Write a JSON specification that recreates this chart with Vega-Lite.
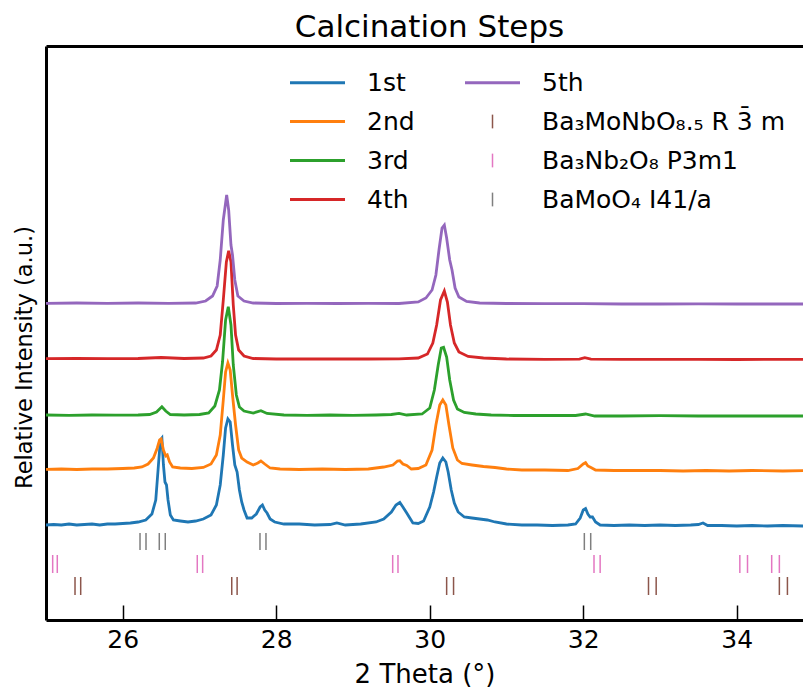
{
  "$schema": "https://vega.github.io/schema/vega-lite/v6.json",
  "width": 757,
  "height": 574,
  "autosize": {"type": "none"},
  "padding": {"left": 46, "top": 46, "right": 0, "bottom": 69},
  "background": "white",
  "title": {"text": "Calcination Steps", "fontSize": 31, "font": "DejaVu Sans", "fontWeight": "normal", "color": "black", "offset": 2, "dx": 5},
  "config": {
    "view": {"stroke": null},
    "axis": {"labelFont": "DejaVu Sans", "titleFont": "DejaVu Sans", "labelFontSize": 25, "titleFontSize": 26, "titleFontWeight": "normal", "labelColor": "black", "titleColor": "black", "domainColor": "black", "domainWidth": 3, "tickColor": "black", "grid": false}
  },
  "datasets": {
    "traces": [
      {"label":"1st","two_theta":25.00,"intensity":95},{"label":"1st","two_theta":25.10,"intensity":95.5},{"label":"1st","two_theta":25.20,"intensity":95},{"label":"1st","two_theta":25.30,"intensity":96},{"label":"1st","two_theta":25.40,"intensity":95},{"label":"1st","two_theta":25.50,"intensity":95.5},{"label":"1st","two_theta":25.60,"intensity":96},{"label":"1st","two_theta":25.70,"intensity":95},{"label":"1st","two_theta":25.80,"intensity":96},{"label":"1st","two_theta":25.90,"intensity":96},{"label":"1st","two_theta":26.00,"intensity":96.5},{"label":"1st","two_theta":26.10,"intensity":97},{"label":"1st","two_theta":26.20,"intensity":98},{"label":"1st","two_theta":26.30,"intensity":100},{"label":"1st","two_theta":26.38,"intensity":106},{"label":"1st","two_theta":26.43,"intensity":120},{"label":"1st","two_theta":26.46,"intensity":150},{"label":"1st","two_theta":26.49,"intensity":180},{"label":"1st","two_theta":26.51,"intensity":182},{"label":"1st","two_theta":26.53,"intensity":155},{"label":"1st","two_theta":26.55,"intensity":138},{"label":"1st","two_theta":26.57,"intensity":135},{"label":"1st","two_theta":26.59,"intensity":120},{"label":"1st","two_theta":26.62,"intensity":105},{"label":"1st","two_theta":26.66,"intensity":100},{"label":"1st","two_theta":26.75,"intensity":99},{"label":"1st","two_theta":26.85,"intensity":98},{"label":"1st","two_theta":26.95,"intensity":99},{"label":"1st","two_theta":27.05,"intensity":101},{"label":"1st","two_theta":27.15,"intensity":105},{"label":"1st","two_theta":27.22,"intensity":115},{"label":"1st","two_theta":27.27,"intensity":135},{"label":"1st","two_theta":27.31,"intensity":165},{"label":"1st","two_theta":27.34,"intensity":192},{"label":"1st","two_theta":27.37,"intensity":201},{"label":"1st","two_theta":27.40,"intensity":198},{"label":"1st","two_theta":27.43,"intensity":175},{"label":"1st","two_theta":27.46,"intensity":155},{"label":"1st","two_theta":27.49,"intensity":148},{"label":"1st","two_theta":27.52,"intensity":130},{"label":"1st","two_theta":27.55,"intensity":118},{"label":"1st","two_theta":27.58,"intensity":110},{"label":"1st","two_theta":27.62,"intensity":102},{"label":"1st","two_theta":27.68,"intensity":102},{"label":"1st","two_theta":27.74,"intensity":106},{"label":"1st","two_theta":27.79,"intensity":113},{"label":"1st","two_theta":27.82,"intensity":115},{"label":"1st","two_theta":27.85,"intensity":110},{"label":"1st","two_theta":27.88,"intensity":107},{"label":"1st","two_theta":27.92,"intensity":101},{"label":"1st","two_theta":27.98,"intensity":98},{"label":"1st","two_theta":28.10,"intensity":96},{"label":"1st","two_theta":28.30,"intensity":96},{"label":"1st","two_theta":28.50,"intensity":95},{"label":"1st","two_theta":28.70,"intensity":95.5},{"label":"1st","two_theta":28.79,"intensity":97},{"label":"1st","two_theta":28.90,"intensity":95},{"label":"1st","two_theta":29.10,"intensity":96},{"label":"1st","two_theta":29.30,"intensity":98},{"label":"1st","two_theta":29.40,"intensity":101},{"label":"1st","two_theta":29.50,"intensity":108},{"label":"1st","two_theta":29.56,"intensity":115},{"label":"1st","two_theta":29.61,"intensity":117.5},{"label":"1st","two_theta":29.65,"intensity":113},{"label":"1st","two_theta":29.70,"intensity":107},{"label":"1st","two_theta":29.74,"intensity":102},{"label":"1st","two_theta":29.78,"intensity":97},{"label":"1st","two_theta":29.85,"intensity":96.5},{"label":"1st","two_theta":29.92,"intensity":99},{"label":"1st","two_theta":30.00,"intensity":113},{"label":"1st","two_theta":30.05,"intensity":128},{"label":"1st","two_theta":30.09,"intensity":143},{"label":"1st","two_theta":30.13,"intensity":157},{"label":"1st","two_theta":30.17,"intensity":162},{"label":"1st","two_theta":30.21,"intensity":158},{"label":"1st","two_theta":30.24,"intensity":148},{"label":"1st","two_theta":30.28,"intensity":130},{"label":"1st","two_theta":30.32,"intensity":117},{"label":"1st","two_theta":30.37,"intensity":108},{"label":"1st","two_theta":30.45,"intensity":103},{"label":"1st","two_theta":30.55,"intensity":102},{"label":"1st","two_theta":30.65,"intensity":101},{"label":"1st","two_theta":30.75,"intensity":100},{"label":"1st","two_theta":30.85,"intensity":98},{"label":"1st","two_theta":31.00,"intensity":96},{"label":"1st","two_theta":31.20,"intensity":95},{"label":"1st","two_theta":31.40,"intensity":95},{"label":"1st","two_theta":31.60,"intensity":94.5},{"label":"1st","two_theta":31.80,"intensity":95},{"label":"1st","two_theta":31.90,"intensity":96},{"label":"1st","two_theta":31.96,"intensity":102},{"label":"1st","two_theta":32.00,"intensity":110},{"label":"1st","two_theta":32.03,"intensity":111.5},{"label":"1st","two_theta":32.06,"intensity":106},{"label":"1st","two_theta":32.09,"intensity":103},{"label":"1st","two_theta":32.12,"intensity":103},{"label":"1st","two_theta":32.16,"intensity":98},{"label":"1st","two_theta":32.22,"intensity":95},{"label":"1st","two_theta":32.40,"intensity":94.5},{"label":"1st","two_theta":32.60,"intensity":95},{"label":"1st","two_theta":32.80,"intensity":94.5},{"label":"1st","two_theta":33.00,"intensity":95},{"label":"1st","two_theta":33.20,"intensity":94.5},{"label":"1st","two_theta":33.40,"intensity":95},{"label":"1st","two_theta":33.50,"intensity":95.5},{"label":"1st","two_theta":33.56,"intensity":97},{"label":"1st","two_theta":33.62,"intensity":94.5},{"label":"1st","two_theta":33.80,"intensity":94.5},{"label":"1st","two_theta":34.00,"intensity":94},{"label":"1st","two_theta":34.20,"intensity":94.5},{"label":"1st","two_theta":34.40,"intensity":94},{"label":"1st","two_theta":34.60,"intensity":94.5},{"label":"1st","two_theta":34.87,"intensity":94},

      {"label":"2nd","two_theta":25.00,"intensity":150.7},{"label":"2nd","two_theta":25.20,"intensity":151},{"label":"2nd","two_theta":25.40,"intensity":150.5},{"label":"2nd","two_theta":25.60,"intensity":151},{"label":"2nd","two_theta":25.80,"intensity":151},{"label":"2nd","two_theta":26.00,"intensity":151.5},{"label":"2nd","two_theta":26.15,"intensity":152},{"label":"2nd","two_theta":26.25,"intensity":153},{"label":"2nd","two_theta":26.33,"intensity":156},{"label":"2nd","two_theta":26.40,"intensity":162},{"label":"2nd","two_theta":26.45,"intensity":172},{"label":"2nd","two_theta":26.48,"intensity":180},{"label":"2nd","two_theta":26.50,"intensity":181},{"label":"2nd","two_theta":26.53,"intensity":170},{"label":"2nd","two_theta":26.56,"intensity":164},{"label":"2nd","two_theta":26.58,"intensity":165},{"label":"2nd","two_theta":26.61,"intensity":158},{"label":"2nd","two_theta":26.65,"intensity":153},{"label":"2nd","two_theta":26.75,"intensity":152},{"label":"2nd","two_theta":26.90,"intensity":151.5},{"label":"2nd","two_theta":27.05,"intensity":152.5},{"label":"2nd","two_theta":27.15,"intensity":156},{"label":"2nd","two_theta":27.22,"intensity":165},{"label":"2nd","two_theta":27.27,"intensity":185},{"label":"2nd","two_theta":27.31,"intensity":220},{"label":"2nd","two_theta":27.34,"intensity":248},{"label":"2nd","two_theta":27.37,"intensity":257},{"label":"2nd","two_theta":27.40,"intensity":250},{"label":"2nd","two_theta":27.43,"intensity":225},{"label":"2nd","two_theta":27.47,"intensity":195},{"label":"2nd","two_theta":27.51,"intensity":170},{"label":"2nd","two_theta":27.55,"intensity":162},{"label":"2nd","two_theta":27.62,"intensity":158},{"label":"2nd","two_theta":27.70,"intensity":155},{"label":"2nd","two_theta":27.76,"intensity":157},{"label":"2nd","two_theta":27.80,"intensity":159},{"label":"2nd","two_theta":27.85,"intensity":156},{"label":"2nd","two_theta":27.92,"intensity":152},{"label":"2nd","two_theta":28.05,"intensity":151},{"label":"2nd","two_theta":28.30,"intensity":150.5},{"label":"2nd","two_theta":28.60,"intensity":151},{"label":"2nd","two_theta":28.90,"intensity":150.5},{"label":"2nd","two_theta":29.20,"intensity":151},{"label":"2nd","two_theta":29.40,"intensity":153},{"label":"2nd","two_theta":29.52,"intensity":155},{"label":"2nd","two_theta":29.58,"intensity":159},{"label":"2nd","two_theta":29.61,"intensity":159.3},{"label":"2nd","two_theta":29.65,"intensity":156},{"label":"2nd","two_theta":29.70,"intensity":154.5},{"label":"2nd","two_theta":29.76,"intensity":151},{"label":"2nd","two_theta":29.85,"intensity":151.5},{"label":"2nd","two_theta":29.95,"intensity":155},{"label":"2nd","two_theta":30.03,"intensity":170},{"label":"2nd","two_theta":30.08,"intensity":195},{"label":"2nd","two_theta":30.13,"intensity":215},{"label":"2nd","two_theta":30.17,"intensity":220},{"label":"2nd","two_theta":30.21,"intensity":215},{"label":"2nd","two_theta":30.25,"intensity":195},{"label":"2nd","two_theta":30.30,"intensity":172},{"label":"2nd","two_theta":30.36,"intensity":160},{"label":"2nd","two_theta":30.42,"intensity":156.5},{"label":"2nd","two_theta":30.55,"intensity":155},{"label":"2nd","two_theta":30.70,"intensity":153.5},{"label":"2nd","two_theta":30.85,"intensity":152.5},{"label":"2nd","two_theta":31.00,"intensity":151},{"label":"2nd","two_theta":31.20,"intensity":150},{"label":"2nd","two_theta":31.50,"intensity":150},{"label":"2nd","two_theta":31.80,"intensity":149.5},{"label":"2nd","two_theta":31.93,"intensity":151.5},{"label":"2nd","two_theta":32.00,"intensity":156},{"label":"2nd","two_theta":32.03,"intensity":157.3},{"label":"2nd","two_theta":32.06,"intensity":154},{"label":"2nd","two_theta":32.10,"intensity":152.5},{"label":"2nd","two_theta":32.16,"intensity":150},{"label":"2nd","two_theta":32.40,"intensity":149.5},{"label":"2nd","two_theta":32.70,"intensity":149.5},{"label":"2nd","two_theta":33.00,"intensity":149.5},{"label":"2nd","two_theta":33.30,"intensity":149},{"label":"2nd","two_theta":33.60,"intensity":149.5},{"label":"2nd","two_theta":33.90,"intensity":149},{"label":"2nd","two_theta":34.20,"intensity":149.5},{"label":"2nd","two_theta":34.60,"intensity":149},{"label":"2nd","two_theta":34.87,"intensity":149.3},

      {"label":"3rd","two_theta":25.00,"intensity":205},{"label":"3rd","two_theta":25.30,"intensity":204.7},{"label":"3rd","two_theta":25.60,"intensity":205},{"label":"3rd","two_theta":25.90,"intensity":204.8},{"label":"3rd","two_theta":26.20,"intensity":205},{"label":"3rd","two_theta":26.35,"intensity":205.5},{"label":"3rd","two_theta":26.44,"intensity":208},{"label":"3rd","two_theta":26.51,"intensity":213.3},{"label":"3rd","two_theta":26.56,"intensity":209},{"label":"3rd","two_theta":26.62,"intensity":205.5},{"label":"3rd","two_theta":26.80,"intensity":205},{"label":"3rd","two_theta":27.00,"intensity":205.5},{"label":"3rd","two_theta":27.12,"intensity":207},{"label":"3rd","two_theta":27.20,"intensity":214},{"label":"3rd","two_theta":27.26,"intensity":230},{"label":"3rd","two_theta":27.30,"intensity":258},{"label":"3rd","two_theta":27.34,"intensity":300},{"label":"3rd","two_theta":27.375,"intensity":313.3},{"label":"3rd","two_theta":27.41,"intensity":295},{"label":"3rd","two_theta":27.44,"intensity":255},{"label":"3rd","two_theta":27.48,"intensity":225},{"label":"3rd","two_theta":27.52,"intensity":213},{"label":"3rd","two_theta":27.58,"intensity":209},{"label":"3rd","two_theta":27.70,"intensity":207},{"label":"3rd","two_theta":27.80,"intensity":209.3},{"label":"3rd","two_theta":27.88,"intensity":206.5},{"label":"3rd","two_theta":28.10,"intensity":205},{"label":"3rd","two_theta":28.40,"intensity":204.7},{"label":"3rd","two_theta":28.70,"intensity":205},{"label":"3rd","two_theta":29.00,"intensity":204.7},{"label":"3rd","two_theta":29.30,"intensity":205},{"label":"3rd","two_theta":29.50,"intensity":205.5},{"label":"3rd","two_theta":29.60,"intensity":206.7},{"label":"3rd","two_theta":29.70,"intensity":205},{"label":"3rd","two_theta":29.90,"intensity":206},{"label":"3rd","two_theta":30.00,"intensity":212},{"label":"3rd","two_theta":30.06,"intensity":230},{"label":"3rd","two_theta":30.11,"intensity":255},{"label":"3rd","two_theta":30.15,"intensity":272},{"label":"3rd","two_theta":30.18,"intensity":272.7},{"label":"3rd","two_theta":30.22,"intensity":263},{"label":"3rd","two_theta":30.26,"intensity":240},{"label":"3rd","two_theta":30.31,"intensity":220},{"label":"3rd","two_theta":30.36,"intensity":211},{"label":"3rd","two_theta":30.45,"intensity":207.5},{"label":"3rd","two_theta":30.60,"intensity":206},{"label":"3rd","two_theta":30.80,"intensity":205},{"label":"3rd","two_theta":31.10,"intensity":204.5},{"label":"3rd","two_theta":31.50,"intensity":204.5},{"label":"3rd","two_theta":31.90,"intensity":204.5},{"label":"3rd","two_theta":32.03,"intensity":206},{"label":"3rd","two_theta":32.15,"intensity":204},{"label":"3rd","two_theta":32.50,"intensity":204},{"label":"3rd","two_theta":33.00,"intensity":204.3},{"label":"3rd","two_theta":33.50,"intensity":204},{"label":"3rd","two_theta":34.00,"intensity":204},{"label":"3rd","two_theta":34.50,"intensity":204},{"label":"3rd","two_theta":34.87,"intensity":204},

      {"label":"4th","two_theta":25.00,"intensity":261.3},{"label":"4th","two_theta":25.40,"intensity":261.5},{"label":"4th","two_theta":25.80,"intensity":261.3},{"label":"4th","two_theta":26.20,"intensity":261.5},{"label":"4th","two_theta":26.50,"intensity":262.5},{"label":"4th","two_theta":26.80,"intensity":261.5},{"label":"4th","two_theta":27.05,"intensity":262},{"label":"4th","two_theta":27.15,"intensity":264},{"label":"4th","two_theta":27.22,"intensity":270},{"label":"4th","two_theta":27.27,"intensity":285},{"label":"4th","two_theta":27.31,"intensity":320},{"label":"4th","two_theta":27.35,"intensity":358},{"label":"4th","two_theta":27.38,"intensity":369.3},{"label":"4th","two_theta":27.41,"intensity":358},{"label":"4th","two_theta":27.44,"intensity":315},{"label":"4th","two_theta":27.47,"intensity":285},{"label":"4th","two_theta":27.51,"intensity":270},{"label":"4th","two_theta":27.58,"intensity":264},{"label":"4th","two_theta":27.70,"intensity":261.5},{"label":"4th","two_theta":28.00,"intensity":261},{"label":"4th","two_theta":28.40,"intensity":261},{"label":"4th","two_theta":28.80,"intensity":261},{"label":"4th","two_theta":29.20,"intensity":261},{"label":"4th","two_theta":29.60,"intensity":261.2},{"label":"4th","two_theta":29.85,"intensity":262},{"label":"4th","two_theta":29.97,"intensity":266},{"label":"4th","two_theta":30.04,"intensity":277},{"label":"4th","two_theta":30.09,"intensity":295},{"label":"4th","two_theta":30.14,"intensity":320},{"label":"4th","two_theta":30.19,"intensity":329},{"label":"4th","two_theta":30.23,"intensity":318},{"label":"4th","two_theta":30.27,"intensity":295},{"label":"4th","two_theta":30.32,"intensity":277},{"label":"4th","two_theta":30.38,"intensity":268},{"label":"4th","two_theta":30.50,"intensity":263.5},{"label":"4th","two_theta":30.70,"intensity":262},{"label":"4th","two_theta":31.00,"intensity":261},{"label":"4th","two_theta":31.50,"intensity":260.7},{"label":"4th","two_theta":31.95,"intensity":260.8},{"label":"4th","two_theta":32.02,"intensity":262.3},{"label":"4th","two_theta":32.10,"intensity":260.8},{"label":"4th","two_theta":32.50,"intensity":260.7},{"label":"4th","two_theta":33.00,"intensity":260.7},{"label":"4th","two_theta":33.50,"intensity":260.7},{"label":"4th","two_theta":34.00,"intensity":260.5},{"label":"4th","two_theta":34.50,"intensity":260.7},{"label":"4th","two_theta":34.87,"intensity":260.7},

      {"label":"5th","two_theta":25.00,"intensity":316.7},{"label":"5th","two_theta":25.40,"intensity":317},{"label":"5th","two_theta":25.80,"intensity":316.7},{"label":"5th","two_theta":26.20,"intensity":317},{"label":"5th","two_theta":26.60,"intensity":316.7},{"label":"5th","two_theta":26.95,"intensity":317},{"label":"5th","two_theta":27.08,"intensity":319},{"label":"5th","two_theta":27.17,"intensity":324},{"label":"5th","two_theta":27.23,"intensity":334},{"label":"5th","two_theta":27.27,"intensity":360},{"label":"5th","two_theta":27.31,"intensity":400},{"label":"5th","two_theta":27.354,"intensity":425},{"label":"5th","two_theta":27.38,"intensity":410},{"label":"5th","two_theta":27.41,"intensity":375},{"label":"5th","two_theta":27.43,"intensity":365},{"label":"5th","two_theta":27.46,"intensity":340},{"label":"5th","two_theta":27.50,"intensity":324},{"label":"5th","two_theta":27.58,"intensity":319},{"label":"5th","two_theta":27.70,"intensity":317},{"label":"5th","two_theta":28.00,"intensity":316.5},{"label":"5th","two_theta":28.40,"intensity":316.7},{"label":"5th","two_theta":28.80,"intensity":316.5},{"label":"5th","two_theta":29.20,"intensity":316.7},{"label":"5th","two_theta":29.60,"intensity":316.5},{"label":"5th","two_theta":29.85,"intensity":318},{"label":"5th","two_theta":29.95,"intensity":322},{"label":"5th","two_theta":30.03,"intensity":330},{"label":"5th","two_theta":30.08,"intensity":345},{"label":"5th","two_theta":30.12,"intensity":370},{"label":"5th","two_theta":30.16,"intensity":392},{"label":"5th","two_theta":30.19,"intensity":395},{"label":"5th","two_theta":30.22,"intensity":382},{"label":"5th","two_theta":30.26,"intensity":360},{"label":"5th","two_theta":30.29,"intensity":350},{"label":"5th","two_theta":30.33,"intensity":332},{"label":"5th","two_theta":30.38,"intensity":323},{"label":"5th","two_theta":30.48,"intensity":318.5},{"label":"5th","two_theta":30.65,"intensity":317},{"label":"5th","two_theta":31.00,"intensity":316.5},{"label":"5th","two_theta":31.50,"intensity":316.3},{"label":"5th","two_theta":32.00,"intensity":316.3},{"label":"5th","two_theta":32.50,"intensity":316},{"label":"5th","two_theta":33.00,"intensity":316},{"label":"5th","two_theta":33.50,"intensity":316.2},{"label":"5th","two_theta":34.00,"intensity":316},{"label":"5th","two_theta":34.50,"intensity":316},{"label":"5th","two_theta":34.87,"intensity":316}
    ],
    "refs": [
      {"label":"BaMoO₄ I41/a","two_theta":26.225,"low":70,"high":87},{"label":"BaMoO₄ I41/a","two_theta":26.303,"low":70,"high":87},{"label":"BaMoO₄ I41/a","two_theta":26.476,"low":70,"high":87},{"label":"BaMoO₄ I41/a","two_theta":26.554,"low":70,"high":87},{"label":"BaMoO₄ I41/a","two_theta":27.788,"low":70,"high":87},{"label":"BaMoO₄ I41/a","two_theta":27.866,"low":70,"high":87},{"label":"BaMoO₄ I41/a","two_theta":32.014,"low":70,"high":87},{"label":"BaMoO₄ I41/a","two_theta":32.097,"low":70,"high":87},
      {"label":"Ba₃Nb₂O₈ P3m1","two_theta":25.087,"low":47,"high":65},{"label":"Ba₃Nb₂O₈ P3m1","two_theta":25.147,"low":47,"high":65},{"label":"Ba₃Nb₂O₈ P3m1","two_theta":26.971,"low":47,"high":65},{"label":"Ba₃Nb₂O₈ P3m1","two_theta":27.041,"low":47,"high":65},{"label":"Ba₃Nb₂O₈ P3m1","two_theta":29.517,"low":47,"high":65},{"label":"Ba₃Nb₂O₈ P3m1","two_theta":29.586,"low":47,"high":65},{"label":"Ba₃Nb₂O₈ P3m1","two_theta":32.14,"low":47,"high":65},{"label":"Ba₃Nb₂O₈ P3m1","two_theta":32.22,"low":47,"high":65},{"label":"Ba₃Nb₂O₈ P3m1","two_theta":34.04,"low":47,"high":65},{"label":"Ba₃Nb₂O₈ P3m1","two_theta":34.14,"low":47,"high":65},{"label":"Ba₃Nb₂O₈ P3m1","two_theta":34.455,"low":47,"high":65},{"label":"Ba₃Nb₂O₈ P3m1","two_theta":34.555,"low":47,"high":65},
      {"label":"Ba₃MoNbO₈.₅ R 3̄ m","two_theta":25.378,"low":25,"high":43},{"label":"Ba₃MoNbO₈.₅ R 3̄ m","two_theta":25.452,"low":25,"high":43},{"label":"Ba₃MoNbO₈.₅ R 3̄ m","two_theta":27.42,"low":25,"high":43},{"label":"Ba₃MoNbO₈.₅ R 3̄ m","two_theta":27.49,"low":25,"high":43},{"label":"Ba₃MoNbO₈.₅ R 3̄ m","two_theta":30.22,"low":25,"high":43},{"label":"Ba₃MoNbO₈.₅ R 3̄ m","two_theta":30.31,"low":25,"high":43},{"label":"Ba₃MoNbO₈.₅ R 3̄ m","two_theta":32.85,"low":25,"high":43},{"label":"Ba₃MoNbO₈.₅ R 3̄ m","two_theta":32.95,"low":25,"high":43},{"label":"Ba₃MoNbO₈.₅ R 3̄ m","two_theta":34.555,"low":25,"high":43},{"label":"Ba₃MoNbO₈.₅ R 3̄ m","two_theta":34.66,"low":25,"high":43}
    ]
  },
  "layer": [
    {
      "data": {"name": "traces"},
      "mark": {"type": "line", "strokeWidth": 2.8, "clip": true},
      "encoding": {
        "x": {"field": "two_theta", "type": "quantitative", "scale": {"domain": [25, 34.863], "nice": false, "zero": false},
              "axis": {"values": [26, 28, 30, 32, 34], "tickSize": -15, "tickWidth": 1.5, "labelPadding": 22, "title": "2 Theta (°)", "titlePadding": 9}},
        "y": {"field": "intensity", "type": "quantitative", "scale": {"domain": [0, 574], "nice": false, "zero": false},
              "axis": {"labels": false, "ticks": false, "title": "Relative Intensity (a.u.)", "titleFontSize": 22.5, "titlePadding": 10, "titleY": 311}},
        "color": {"field": "label", "type": "nominal",
          "scale": {"domain": ["1st","2nd","3rd","4th","5th","Ba₃MoNbO₈.₅ R 3̄ m","Ba₃Nb₂O₈ P3m1","BaMoO₄ I41/a"],
                    "range": ["#1f77b4","#ff7f0e","#2ca02c","#d62728","#9467bd","#8c564b","#e377c2","#7f7f7f"]},
          "legend": {"orient": "none", "legendX": 259, "legendY": 24, "columns": 2, "title": null, "padding": 0, "gridAlign": "each",
            "values": ["1st","2nd","3rd","4th","5th","Ba₃MoNbO₈.₅ R 3̄ m","Ba₃Nb₂O₈ P3m1","BaMoO₄ I41/a"],
            "symbolSize": 3025, "symbolStrokeWidth": 3, "symbolType": "stroke", "labelFont": "DejaVu Sans", "labelFontSize": 25, "labelColor": "black", "labelLimit": 500,
            "labelOffset": 37, "columnPadding": 44, "rowPadding": 13,
            "encode": {"symbols": {"update": {
              "shape": {"signal": "indexof(['1st','2nd','3rd','4th','5th'], datum.value) >= 0 ? 'stroke' : 'M0,-0.25L0,0.25'"},
              "strokeWidth": {"signal": "indexof(['1st','2nd','3rd','4th','5th'], datum.value) >= 0 ? 3 : 1.5"}
            }}}
          }
        },
        "detail": {"field": "label"}
      }
    },
    {
      "data": {"name": "refs"},
      "mark": {"type": "rule", "strokeWidth": 1.5},
      "encoding": {
        "x": {"field": "two_theta", "type": "quantitative", "axis": {"orient": "top", "labels": false, "ticks": false, "title": null, "domainWidth": 3}},
        "y": {"field": "low", "type": "quantitative"},
        "y2": {"field": "high"},
        "color": {"field": "label", "type": "nominal"}
      }
    }
  ],
  "resolve": {"axis": {"x": "independent"}}
}
